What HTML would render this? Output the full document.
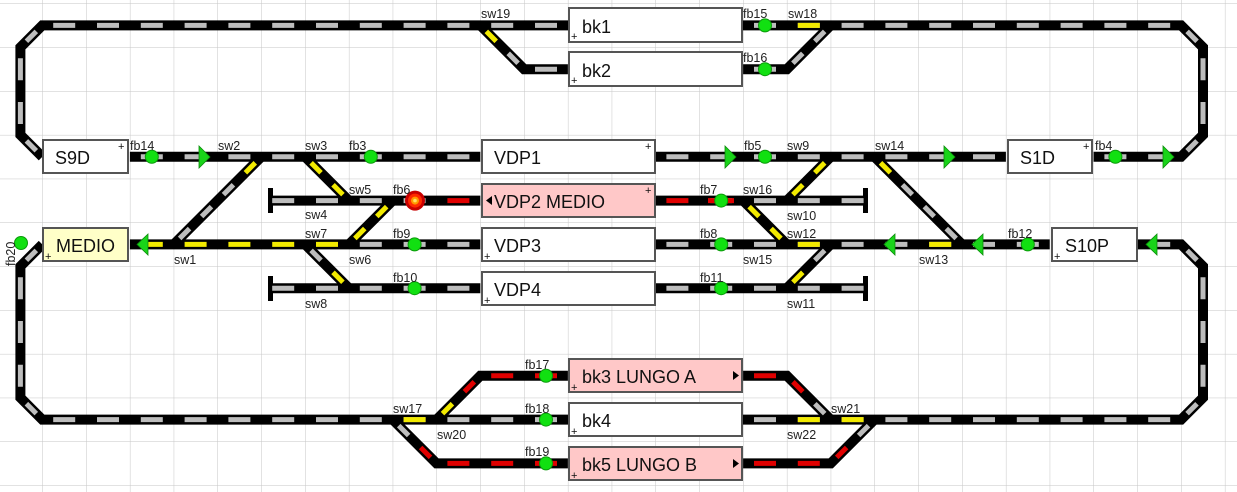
<!DOCTYPE html>
<html><head><meta charset="utf-8"><style>
html,body{margin:0;padding:0;background:#fff;}
svg{display:block;font-family:"Liberation Sans",sans-serif;}
</style></head><body>
<svg width="1237" height="492" viewBox="0 0 1237 492" xmlns="http://www.w3.org/2000/svg">
<defs>
<pattern id="g" x="-1.5" y="3.5" width="43.8" height="43.8" patternUnits="userSpaceOnUse">
<path d="M0 0H43.8M0 0V43.8" stroke="#c6c6c6" stroke-width="1" fill="none"/>
</pattern>
</defs>
<rect width="1237" height="492" fill="#fff"/>
<rect width="1237" height="492" fill="url(#g)"/>

<g fill="none" stroke="#000" stroke-width="10" stroke-linejoin="miter">
<polyline points="42.3,156.8 20.4,134.9 20.4,47.3 42.3,25.4 1181.1,25.4 1203,47.3 1203,134.9 1181.1,156.8 1093.5,156.8"/>
<polyline points="480.3,25.4 524.1,69.2 567.9,69.2"/>
<polyline points="743.1,69.2 786.9,69.2 830.7,25.4"/>
<path d="M129.9,156.8H480.3M655.5,156.8H1005.9"/>
<path d="M270,200.6H480.3M655.5,200.6H866"/>
<path d="M129.9,244.4H480.3M655.5,244.4H1049.7"/>
<polyline points="1137.3,244.4 1181.1,244.4 1203,266.3 1203,397.7 1181.1,419.6 42.3,419.6 20.4,397.7 20.4,266.3 42.3,244.4"/>
<path d="M270,288.2H480.3M655.5,288.2H866"/>
<path d="M261.3,156.8L173.7,244.4M305.1,156.8L348.9,200.6M392.7,200.6L348.9,244.4M305.1,244.4L348.9,288.2"/>
<path d="M830.7,156.8L786.9,200.6M743.1,200.6L786.9,244.4M830.7,244.4L786.9,288.2M874.5,156.8L962.1,244.4"/>
<polyline points="392.7,419.6 436.5,463.4 567.9,463.4"/>
<polyline points="436.5,419.6 480.3,375.8 567.9,375.8"/>
<polyline points="743.1,375.8 786.9,375.8 830.7,419.6"/>
<polyline points="743.1,463.4 830.7,463.4 874.5,419.6"/>
</g>
<g fill="#000">
<rect x="268" y="188" width="5" height="25"/>
<rect x="268" y="276" width="5" height="25"/>
<rect x="863" y="188" width="5" height="25"/>
<rect x="863" y="276" width="5" height="25"/>
</g>

<g fill="none" stroke="#bdbdbd" stroke-width="5" stroke-dasharray="0 10.9 22 10.9">
<path d="M42.3,25.4H1181.1M20.4,47.3V134.9M1203,47.3V134.9M20.4,266.3V397.7M1203,266.3V397.7"/>
<path d="M524.1,69.2H567.9M743.1,69.2H786.9"/>
<path d="M129.9,156.8H480.3M655.5,156.8H1005.9M1093.5,156.8H1181.1"/>
<path d="M261.3,200.6H436.5M699.3,200.6H874.5"/>
<path d="M348.9,244.4H480.3M655.5,244.4H1049.7M1137.3,244.4H1181.1"/>
<path d="M261.3,288.2H480.3M655.5,288.2H874.5"/>
<path d="M42.3,419.6H1181.1"/>
</g>
<g fill="none" stroke="#f2ea00" stroke-width="5" stroke-dasharray="0 10.9 22 10.9">
<path d="M786.9,25.4H830.7"/>
<path d="M129.9,244.4H348.9M786.9,244.4H830.7M918.3,244.4H962.1"/>
<path d="M392.7,419.6H436.5M786.9,419.6H874.5"/>
</g>
<g fill="none" stroke="#e00000" stroke-width="5" stroke-dasharray="0 10.9 22 10.9">
<path d="M436.5,200.6H480.3M655.5,200.6H699.3"/>
<path d="M480.3,375.8H567.9M743.1,375.8H786.9M436.5,463.4H567.9M743.1,463.4H830.7"/>
</g>
<path d="M708,200.6H734" stroke="#e00000" stroke-width="5"/>
<g fill="none" stroke-width="5" stroke-dasharray="0 8.5 14 8.5">
<g stroke="#bdbdbd">
<path d="M42.3,156.8L20.4,134.9M20.4,47.3L42.3,25.4M1181.1,25.4L1203,47.3M1203,134.9L1181.1,156.8"/>
<path d="M1181.1,244.4L1203,266.3M1203,397.7L1181.1,419.6M42.3,419.6L20.4,397.7M20.4,266.3L42.3,244.4"/>
<path d="M502.2,47.3L524.1,69.2M830.7,25.4L786.9,69.2"/>
<path d="M239.4,178.7L173.7,244.4"/>
<path d="M305.1,244.4L327,266.3"/>
<path d="M830.7,244.4L808.8,266.3"/>
<path d="M896.4,178.7L962.1,244.4"/>
<path d="M392.7,419.6L414.6,441.5M808.8,397.7L830.7,419.6M852.6,441.5L874.5,419.6"/>
</g>
<g stroke="#f2ea00">
<path d="M480.3,25.4L502.2,47.3M261.3,156.8L239.4,178.7M305.1,156.8L348.9,200.6M392.7,200.6L348.9,244.4M327,266.3L348.9,288.2"/>
<path d="M830.7,156.8L786.9,200.6M743.1,200.6L786.9,244.4M808.8,266.3L786.9,288.2M874.5,156.8L896.4,178.7"/>
<path d="M436.5,419.6L458.4,397.7"/>
</g>
<g stroke="#e00000">
<path d="M414.6,441.5L436.5,463.4M458.4,397.7L480.3,375.8M786.9,375.8L808.8,397.7M830.7,463.4L852.6,441.5"/>
</g>
</g>

<g fill="#19d419" stroke="#0a8a0a" stroke-width="0.8">
<polygon points="199,146 210,157 199,168"/>
<polygon points="725,146 736,157 725,168"/>
<polygon points="944,146 955,157 944,168"/>
<polygon points="1163,146 1174,157 1163,168"/>
<polygon points="148,234 137,244.4 148,255"/>
<polygon points="895,234 884,244.4 895,255"/>
<polygon points="983,234 972,244.4 983,255"/>
<polygon points="1157,234 1146,244.4 1157,255"/>
</g>
<g fill="#11e011" stroke="#0a9a0a" stroke-width="1">
<circle cx="151.8" cy="156.8" r="6.5"/>
<circle cx="370.8" cy="156.8" r="6.5"/>
<circle cx="765" cy="156.8" r="6.5"/>
<circle cx="1115.4" cy="156.8" r="6.5"/>
<circle cx="765" cy="25.4" r="6.5"/>
<circle cx="765" cy="69.2" r="6.5"/>
<circle cx="721.2" cy="200.6" r="6.5"/>
<circle cx="414.6" cy="244.4" r="6.5"/>
<circle cx="721.2" cy="244.4" r="6.5"/>
<circle cx="414.6" cy="288.2" r="6.5"/>
<circle cx="721.2" cy="288.2" r="6.5"/>
<circle cx="1027.8" cy="244.4" r="6.5"/>
<circle cx="546" cy="375.8" r="6.5"/>
<circle cx="546" cy="419.6" r="6.5"/>
<circle cx="546" cy="463.4" r="6.5"/>
<circle cx="21" cy="243" r="6.5"/>
</g>
<circle cx="415" cy="200.6" r="10" fill="#c80000"/>
<circle cx="415" cy="200.6" r="7" fill="#ff2a00"/>
<circle cx="415" cy="200.6" r="4" fill="#ff9a00"/>
<circle cx="415" cy="200.6" r="1.8" fill="#ffe060"/>

<g stroke="#555" stroke-width="2">
<rect x="43" y="140" width="85" height="33" fill="#fff"/>
<rect x="43" y="228" width="85" height="33" fill="#ffffc8"/>
<rect x="569" y="8" width="173" height="34" fill="#fff"/>
<rect x="569" y="52" width="173" height="34" fill="#fff"/>
<rect x="482" y="140" width="173" height="33" fill="#fff"/>
<rect x="482" y="184" width="173" height="33" fill="#ffc8c8"/>
<rect x="482" y="228" width="173" height="33" fill="#fff"/>
<rect x="482" y="272" width="173" height="33" fill="#fff"/>
<rect x="1008" y="140" width="84" height="33" fill="#fff"/>
<rect x="1052" y="228" width="85" height="33" fill="#fff"/>
<rect x="569" y="359" width="173" height="33" fill="#ffc8c8"/>
<rect x="569" y="403" width="173" height="33" fill="#fff"/>
<rect x="569" y="447" width="173" height="33" fill="#ffc8c8"/>
</g>
<g fill="#000">
<polygon points="492,196 492,205 486,200.5"/>
<polygon points="733,371 733,380 739,375.5"/>
<polygon points="733,459 733,468 739,463.5"/>
</g>
<g font-size="18" fill="#111">
<text x="55" y="164">S9D</text>
<text x="56" y="252">MEDIO</text>
<text x="582" y="33">bk1</text>
<text x="582" y="77">bk2</text>
<text x="494" y="164">VDP1</text>
<text x="494" y="208">VDP2 MEDIO</text>
<text x="494" y="252">VDP3</text>
<text x="494" y="296">VDP4</text>
<text x="1020" y="164">S1D</text>
<text x="1065" y="252">S10P</text>
<text x="582" y="383">bk3 LUNGO A</text>
<text x="582" y="427">bk4</text>
<text x="582" y="471">bk5 LUNGO B</text>
</g>
<g font-size="11" fill="#111">
<text x="118" y="150">+</text>
<text x="645" y="150">+</text>
<text x="645" y="194">+</text>
<text x="1083" y="150">+</text>
<text x="45" y="260">+</text>
<text x="571" y="40">+</text>
<text x="571" y="84">+</text>
<text x="484" y="260">+</text>
<text x="484" y="304">+</text>
<text x="1054" y="260">+</text>
<text x="571" y="391">+</text>
<text x="571" y="435">+</text>
<text x="571" y="479">+</text>
</g>
<g font-size="12.5" fill="#222">
<text x="481" y="18">sw19</text>
<text x="743" y="18">fb15</text>
<text x="788" y="18">sw18</text>
<text x="743" y="62">fb16</text>
<text x="130" y="150">fb14</text>
<text x="218" y="150">sw2</text>
<text x="305" y="150">sw3</text>
<text x="349" y="150">fb3</text>
<text x="744" y="150">fb5</text>
<text x="787" y="150">sw9</text>
<text x="875" y="150">sw14</text>
<text x="1095" y="150">fb4</text>
<text x="349" y="194">sw5</text>
<text x="393" y="194">fb6</text>
<text x="700" y="194">fb7</text>
<text x="743" y="194">sw16</text>
<text x="305" y="219">sw4</text>
<text x="787" y="220">sw10</text>
<text x="305" y="238">sw7</text>
<text x="393" y="238">fb9</text>
<text x="700" y="238">fb8</text>
<text x="787" y="238">sw12</text>
<text x="1008" y="238">fb12</text>
<text x="174" y="264">sw1</text>
<text x="349" y="264">sw6</text>
<text x="743" y="264">sw15</text>
<text x="919" y="264">sw13</text>
<text x="393" y="282">fb10</text>
<text x="700" y="282">fb11</text>
<text x="305" y="308">sw8</text>
<text x="787" y="308">sw11</text>
<text x="525" y="369">fb17</text>
<text x="393" y="413">sw17</text>
<text x="525" y="413">fb18</text>
<text x="831" y="413">sw21</text>
<text x="437" y="439">sw20</text>
<text x="787" y="439">sw22</text>
<text x="525" y="456">fb19</text>
<text transform="translate(15,266) rotate(-90)">fb20</text>
</g>
</svg>
</body></html>
